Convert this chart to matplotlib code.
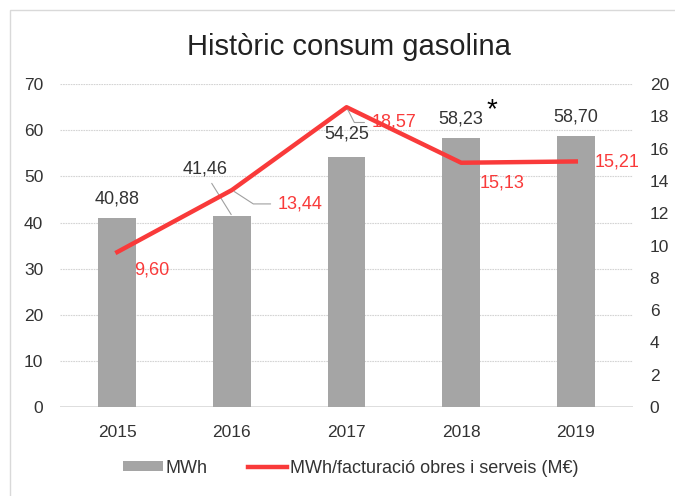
import matplotlib.pyplot as plt
import matplotlib.patches as patches
import numpy as np

plt.rcParams['font.family'] = ['Liberation Sans', 'DejaVu Sans']

# Data
years = ['2015', '2016', '2017', '2018', '2019']
mwh = [40.88, 41.46, 54.25, 58.23, 58.70]
ratio = [9.60, 13.44, 18.57, 15.13, 15.21]
mwh_labels = ['40,88', '41,46', '54,25', '58,23', '58,70']
ratio_labels = ['9,60', '13,44', '18,57', '15,13', '15,21']

grey = '#a5a5a5'
red = '#f93a3a'
text_col = '#333333'
leader = '#a0a0a0'

fig = plt.figure(figsize=(6.75, 4.96), dpi=100)
fig.patches.append(patches.Rectangle((10 / 675, -0.01), 1.0, 1.01 - 10 / 496,
                                     transform=fig.transFigure, fill=False,
                                     edgecolor='#d9d9d9', linewidth=1))
ax = fig.add_axes([0.0889, 0.1794, 0.849, 0.651])
ax2 = ax.twinx()

x = np.arange(len(years))
ax.bar(x, mwh, width=0.33, color=grey, zorder=2, label='MWh')
ax2.plot(x, ratio, color=red, linewidth=3.2, zorder=3,
         label='MWh/facturació obres i serveis (M€)')

ax.set_ylim(0, 70)
ax.set_yticks(range(0, 71, 10))
ax2.set_ylim(0, 20)
ax2.set_yticks(range(0, 21, 2))
ax.set_xlim(-0.5, 4.5)
ax.set_xticks(x)
ax.set_xticklabels(years)
ax.grid(axis='y', color='#d4d4d4', linestyle=(0, (1.5, 0.8)), linewidth=0.8, zorder=0)
ax.axhline(0, color='#d9d9d9', linewidth=1.2, zorder=1)
for a in (ax, ax2):
    for s in a.spines.values():
        s.set_visible(False)
    a.tick_params(length=0, labelsize=12.5, colors=text_col)
ax.tick_params(axis='x', pad=13)
ax.tick_params(axis='y', pad=12)
ax2.tick_params(axis='y', pad=12)

# Bar labels
bar_offsets = [(0, 8), (-19, 34), (0, 10), (0, 8), (0, 8)]
for i, (v, lab) in enumerate(zip(mwh, mwh_labels)):
    dx, dy = bar_offsets[i]
    if i == 1:
        ax.annotate(lab, (x[i], v), xytext=(dx, dy), textcoords='offset points',
                    ha='center', va='center', fontsize=13, color=text_col,
                    arrowprops=dict(arrowstyle='-', color=leader, lw=0.8,
                                    shrinkA=3, shrinkB=1, relpos=(0.55, 0.0)))
    else:
        ax.annotate(lab, (x[i], v), xytext=(dx, dy), textcoords='offset points',
                    ha='center', va='bottom', fontsize=13, color=text_col)
ax.annotate('*', (x[3], mwh[3]), xytext=(22, 20), textcoords='offset points',
            ha='center', va='center', fontsize=20, color='black')

# Line labels
ratio_offsets = [(24.5, -13), (49, -10), (34, -11), (29.5, -14.5), (29.5, -0.5)]
leader_angles = {1: -33, 2: -63}
for i, (v, lab) in enumerate(zip(ratio, ratio_labels)):
    dx, dy = ratio_offsets[i]
    kw = {}
    if i in leader_angles:
        kw['arrowprops'] = dict(arrowstyle='-', color=leader, lw=0.8,
                                shrinkA=3, shrinkB=2, relpos=(0.0, 0.5),
                                connectionstyle='angle,angleA=0,angleB=%d,rad=0'
                                % leader_angles[i])
    ax2.annotate(lab, (x[i], v), xytext=(dx, dy), textcoords='offset points',
                 ha='center', va='center', fontsize=13, color=red, zorder=4, **kw)

fig.text(0.517, 0.905, 'Històric consum gasolina', ha='center', va='center',
         fontsize=21, color='#222222')

h1, l1 = ax.get_legend_handles_labels()
h2, l2 = ax2.get_legend_handles_labels()
fig.legend(h1 + h2, l1 + l2, loc='center', bbox_to_anchor=(0.52, 0.056), ncol=2,
           frameon=False, fontsize=13, handlelength=2.2, handleheight=0.5,
           columnspacing=2.2, handletextpad=0.15, labelcolor=text_col)

fig.savefig('out.png', dpi=100)
